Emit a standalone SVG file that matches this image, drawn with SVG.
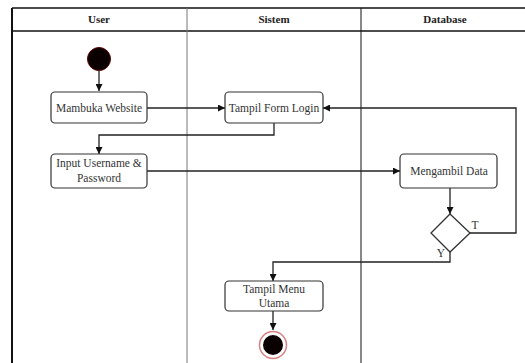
<svg xmlns="http://www.w3.org/2000/svg" width="525" height="363" viewBox="0 0 525 363">
  <style>
    .lane-title { font-family: "Liberation Serif", "Times New Roman", serif; font-size: 11px; font-weight: bold; fill: #222; text-anchor: middle; }
    .label { font-family: "Liberation Serif", "Times New Roman", serif; font-size: 11.5px; fill: #333; text-anchor: middle; }
    .box { fill: #fff; stroke: #333; stroke-width: 1.2; }
    .edge { fill: none; stroke: #222; stroke-width: 1.3; }
  </style>
  <defs>
    <marker id="arrow" viewBox="0 0 10 10" refX="10" refY="5" markerWidth="7" markerHeight="7" markerUnits="userSpaceOnUse" orient="auto">
      <path d="M0,0 L10,5 L0,10 z" fill="#111"/>
    </marker>
  </defs>

  <rect width="525" height="363" fill="#fff"/>

  <!-- swimlane frame -->
  <g id="lanes">
    <line x1="12" y1="8" x2="525" y2="8" stroke="#111" stroke-width="1.5"/>
    <line x1="12" y1="31" x2="525" y2="31" stroke="#111" stroke-width="1.5"/>
    <line x1="12" y1="8" x2="12" y2="363" stroke="#111" stroke-width="2"/>
    <line x1="187" y1="8" x2="187" y2="363" stroke="#777" stroke-width="1"/>
    <line x1="361" y1="8" x2="361" y2="363" stroke="#111" stroke-width="1"/>
    <text class="lane-title" x="99" y="23">User</text>
    <text class="lane-title" x="274" y="23">Sistem</text>
    <text class="lane-title" x="445" y="23">Database</text>
  </g>

  <!-- connectors -->
  <g id="connectors">
    <path class="edge" d="M99,71 V91" marker-end="url(#arrow)"/>
    <path class="edge" d="M147,108 H225" marker-end="url(#arrow)"/>
    <path class="edge" d="M274,123 V135 H99 V154" marker-end="url(#arrow)"/>
    <path class="edge" d="M147,171 H400" marker-end="url(#arrow)"/>
    <path class="edge" d="M450,188 V214" marker-end="url(#arrow)"/>
    <path class="edge" d="M470,233 H516 V108 H323" marker-end="url(#arrow)"/>
    <path class="edge" d="M450,252 V262 H273 V281" marker-end="url(#arrow)"/>
    <path class="edge" d="M273,311 V330" marker-end="url(#arrow)"/>
    <text class="label" x="475" y="229" font-size="11">T</text>
    <text class="label" x="441" y="257" font-size="11">Y</text>
  </g>

  <!-- nodes -->
  <g id="start">
    <circle cx="99" cy="59" r="11.5" fill="#0a0000" stroke="#5a0000" stroke-width="1"/>
  </g>
  <g id="buka-website">
    <rect class="box" x="51" y="92" width="96" height="31" rx="4"/>
    <text class="label" x="99" y="112">Mambuka Website</text>
  </g>
  <g id="form-login">
    <rect class="box" x="225" y="92" width="98" height="31" rx="4"/>
    <text class="label" x="274" y="112">Tampil Form Login</text>
  </g>
  <g id="input-login">
    <rect class="box" x="51" y="154" width="96" height="34" rx="4"/>
    <text class="label" x="99" y="167">Input Username &amp;</text>
    <text class="label" x="99" y="182">Password</text>
  </g>
  <g id="ambil-data">
    <rect class="box" x="400" y="154" width="97" height="34" rx="4"/>
    <text class="label" x="449" y="175">Mengambil Data</text>
  </g>
  <g id="decision">
    <path d="M450,214 L470,233 L450,252 L431,233 Z" fill="#fff" stroke="#333" stroke-width="1.3"/>
  </g>
  <g id="menu-utama">
    <rect class="box" x="225" y="281" width="98" height="30" rx="4"/>
    <text class="label" x="274" y="293">Tampil Menu</text>
    <text class="label" x="274" y="307">Utama</text>
  </g>
  <g id="end">
    <circle cx="273" cy="345" r="13.5" fill="#fff" stroke="#d88080" stroke-width="1.5"/>
    <circle cx="273" cy="345" r="10" fill="#0a0000"/>
  </g>
</svg>
